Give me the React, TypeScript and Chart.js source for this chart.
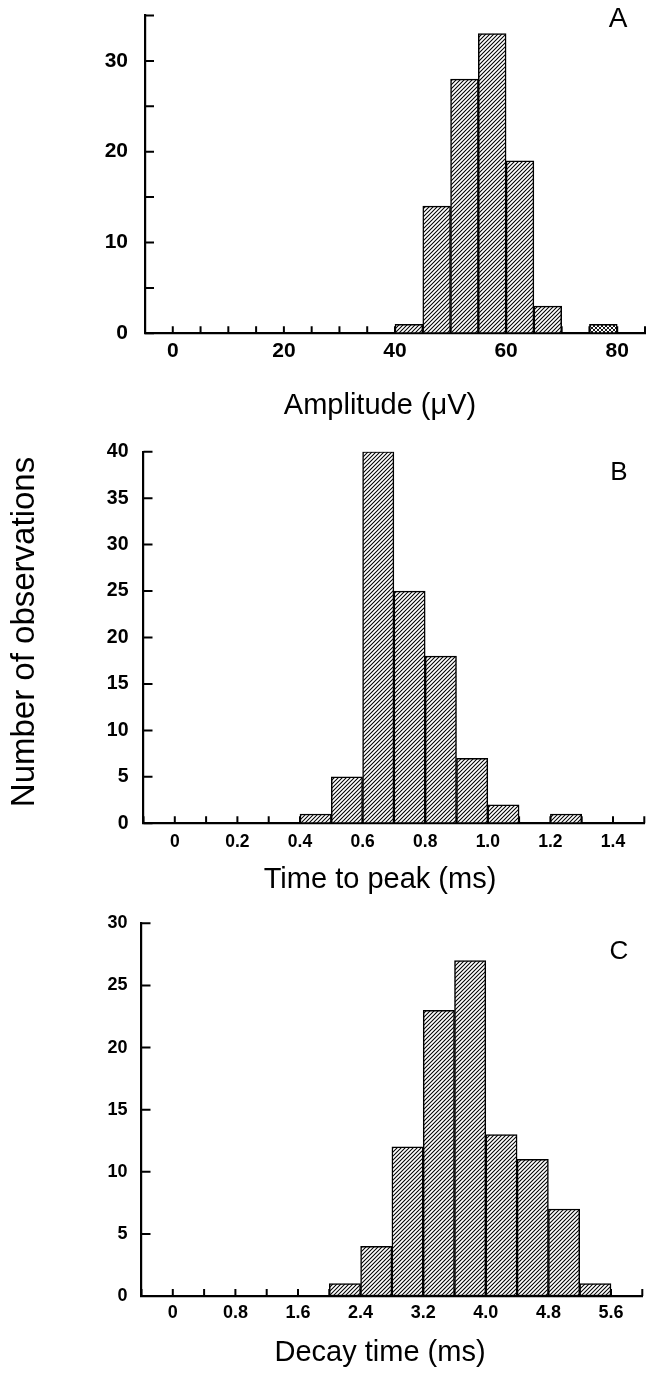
import React, { useEffect, useRef } from 'react';
import { Chart, registerables } from 'chart.js';

Chart.register(...registerables);

// ---------- DATA ----------
// Panel A: Amplitude (μV), bin width 5
const ampBinStart = [40, 45, 50, 55, 60, 65, 75];
const ampCounts = [1, 14, 28, 33, 19, 3, 1];
const ampBinWidth = 5;
const ampXLabels = ['0', '20', '40', '60', '80'];
const ampYLabels = ['0', '10', '20', '30'];

// Panel B: Time to peak (ms), bin width 0.1
const ttpBinStart = [0.4, 0.5, 0.6, 0.7, 0.8, 0.9, 1.0, 1.2];
const ttpCounts = [1, 5, 40, 25, 18, 7, 2, 1];
const ttpBinWidth = 0.1;
const ttpXLabels = ['0', '0.2', '0.4', '0.6', '0.8', '1.0', '1.2', '1.4'];
const ttpYLabels = ['0', '5', '10', '15', '20', '25', '30', '35', '40'];

// Panel C: Decay time (ms), bin width 0.4
const decayBinStart = [2.0, 2.4, 2.8, 3.2, 3.6, 4.0, 4.4, 4.8, 5.2];
const decayCounts = [1, 4, 12, 23, 27, 13, 11, 7, 1];
const decayBinWidth = 0.4;
const decayXLabels = ['0', '0.8', '1.6', '2.4', '3.2', '4.0', '4.8', '5.6'];
const decayYLabels = ['0', '5', '10', '15', '20', '25', '30'];

const yAxisTitle = 'Number of observations';

// ---------- STYLE / LAYOUT ----------
const FONT = '"Liberation Sans", Arial, Helvetica, sans-serif';
const W = 646;

type PanelCfg = {
  binStart: number[];
  counts: number[];
  binWidth: number;
  xLabels: string[];
  yLabels: string[];
  xMin: number;
  xMax: number;
  xStep: number;
  yMax: number;
  yStep: number;
  title: string;
  letter: string;
  top: number;
  height: number;
  plotTop: number;
  plotBottom: number;
  plotLeft: number;
  plotRight: number;
  xFont: number;
  yFont: number;
  xPad: number;
  yPad: number;
  titleX: number;
  titleY: number;
  letterX: number;
  letterY: number;
  letterSize: number;
  stippleBin?: number;
  sideTitle?: boolean;
};

const panels: PanelCfg[] = [
  {
    binStart: ampBinStart, counts: ampCounts, binWidth: ampBinWidth,
    xLabels: ampXLabels, yLabels: ampYLabels,
    xMin: -5, xMax: 85, xStep: 5, yMax: 35, yStep: 5,
    title: 'Amplitude (\u03bcV)', letter: 'A',
    top: 0, height: 440,
    plotTop: 15.5, plotBottom: 333.3, plotLeft: 145, plotRight: 645,
    xFont: 21, yFont: 21, xPad: 5, yPad: 17,
    titleX: 380, titleY: 406, letterX: 618, letterY: 19, letterSize: 28,
    stippleBin: 75,
  },
  {
    binStart: ttpBinStart, counts: ttpCounts, binWidth: ttpBinWidth,
    xLabels: ttpXLabels, yLabels: ttpYLabels,
    xMin: -0.1, xMax: 1.5, xStep: 0.1, yMax: 40, yStep: 5,
    title: 'Time to peak (ms)', letter: 'B',
    top: 440, height: 465,
    plotTop: 451.7, plotBottom: 823.3, plotLeft: 143.5, plotRight: 644.3,
    xFont: 17.5, yFont: 19.5, xPad: 8, yPad: 15,
    titleX: 380, titleY: 880, letterX: 619, letterY: 473, letterSize: 26,
    sideTitle: true,
  },
  {
    binStart: decayBinStart, counts: decayCounts, binWidth: decayBinWidth,
    xLabels: decayXLabels, yLabels: decayYLabels,
    xMin: -0.4, xMax: 6.0, xStep: 0.4, yMax: 30, yStep: 5,
    title: 'Decay time (ms)', letter: 'C',
    top: 905, height: 470,
    plotTop: 923.3, plotBottom: 1296, plotLeft: 141.5, plotRight: 642.3,
    xFont: 18, yFont: 18, xPad: 6.5, yPad: 14,
    titleX: 380, titleY: 1353, letterX: 619, letterY: 952, letterSize: 26,
  },
];

function makeHatch(): CanvasPattern | string {
  const n = 8;
  const c = document.createElement('canvas');
  c.width = n;
  c.height = n;
  const g = c.getContext('2d');
  if (!g) return '#888';
  g.fillStyle = '#fff';
  g.fillRect(0, 0, n, n);
  g.strokeStyle = '#000';
  g.lineWidth = 1.05;
  g.beginPath();
  for (let k = -n; k <= 2 * n; k += 4) {
    g.moveTo(k - 1, n + 1);
    g.lineTo(k + n + 1, -1);
  }
  g.stroke();
  return g.createPattern(c, 'repeat') || '#888';
}

function makeStipple(): CanvasPattern | string {
  const c = document.createElement('canvas');
  c.width = 4;
  c.height = 4;
  const g = c.getContext('2d');
  if (!g) return '#aaa';
  g.fillStyle = '#fff';
  g.fillRect(0, 0, 4, 4);
  g.strokeStyle = '#000';
  g.lineWidth = 0.9;
  g.beginPath();
  g.moveTo(0, 0);
  g.lineTo(4, 4);
  g.moveTo(4, 0);
  g.lineTo(0, 4);
  g.stroke();
  return g.createPattern(c, 'repeat') || '#aaa';
}

function labelFor(labels: string[], value: number, step: number): string {
  const hit = labels.find((l) => Math.abs(parseFloat(l) - value) < step * 1e-3);
  return hit === undefined ? '' : hit;
}

function Panel({ cfg }: { cfg: PanelCfg }) {
  const ref = useRef<HTMLCanvasElement | null>(null);

  useEffect(() => {
    const canvas = ref.current;
    if (!canvas) return;
    const hatch = makeHatch();
    const stipple = makeStipple();
    const data = cfg.binStart.map((s, i) => ({ x: s + cfg.binWidth / 2, y: cfg.counts[i] }));
    const fills = cfg.binStart.map((s) =>
      cfg.stippleBin !== undefined && Math.abs(s - cfg.stippleBin) < 1e-9 ? stipple : hatch
    );

    const ticksPlugin = {
      id: 'innerTicks',
      beforeDatasetsDraw(chart: any) {
        const { ctx, chartArea, scales } = chart;
        const xs = scales.x;
        const ys = scales.y;
        ctx.save();
        ctx.strokeStyle = '#000';
        ctx.lineWidth = 2;
        ctx.beginPath();
        xs.ticks.forEach((t: any) => {
          const px = xs.getPixelForValue(t.value);
          ctx.moveTo(px, chartArea.bottom);
          ctx.lineTo(px, chartArea.bottom - 7);
        });
        ys.ticks.forEach((t: any) => {
          const py = ys.getPixelForValue(t.value);
          ctx.moveTo(chartArea.left, py);
          ctx.lineTo(chartArea.left + 9, py);
        });
        ctx.stroke();
        ctx.restore();
      },
    };

    const textPlugin = {
      id: 'panelText',
      afterDraw(chart: any) {
        const ctx = chart.ctx;
        ctx.save();
        ctx.fillStyle = '#000';
        ctx.textAlign = 'center';
        ctx.textBaseline = 'middle';
        ctx.font = `29px ${FONT}`;
        ctx.fillText(cfg.title, cfg.titleX, cfg.titleY - cfg.top);
        ctx.font = `${cfg.letterSize}px ${FONT}`;
        ctx.fillText(cfg.letter, cfg.letterX, cfg.letterY - cfg.top);
        if (cfg.sideTitle) {
          ctx.translate(25, 632 - cfg.top);
          ctx.rotate(-Math.PI / 2);
          ctx.font = `33px ${FONT}`;
          ctx.fillText(yAxisTitle, 0, 0);
        }
        ctx.restore();
      },
    };

    const chart = new Chart(canvas, {
      type: 'bar',
      data: {
        datasets: [
          {
            data: data as any,
            backgroundColor: fills as any,
            borderColor: '#000',
            borderWidth: 1.5,
            borderSkipped: false,
            barPercentage: 1,
            categoryPercentage: 1,
          },
        ],
      },
      options: {
        animation: false,
        responsive: false,
        maintainAspectRatio: false,
        devicePixelRatio: 1,
        layout: {
          padding: { top: cfg.plotTop - cfg.top, right: W - cfg.plotRight, left: 0, bottom: 0 },
        },
        plugins: {
          legend: { display: false },
          tooltip: { enabled: false },
          title: { display: false },
        },
        scales: {
          x: {
            type: 'linear',
            offset: false,
            min: cfg.xMin,
            max: cfg.xMax,
            grid: { display: false, drawTicks: false, offset: false },
            border: { display: true, color: '#000', width: 2.2 },
            ticks: {
              stepSize: cfg.xStep,
              autoSkip: false,
              maxRotation: 0,
              minRotation: 0,
              padding: cfg.xPad,
              color: '#000',
              font: { family: FONT, size: cfg.xFont, weight: 'bold' },
              callback: (v: any) => labelFor(cfg.xLabels, Number(v), cfg.xStep),
            },
            afterFit: (s: any) => {
              s.height = cfg.top + cfg.height - cfg.plotBottom;
              s.paddingLeft = 0;
              s.paddingRight = 0;
            },
          },
          y: {
            type: 'linear',
            min: 0,
            max: cfg.yMax,
            grid: { display: false, drawTicks: false },
            border: { display: true, color: '#000', width: 2.2 },
            ticks: {
              stepSize: cfg.yStep,
              autoSkip: false,
              padding: cfg.yPad,
              color: '#000',
              font: { family: FONT, size: cfg.yFont, weight: 'bold' },
              callback: (v: any) => labelFor(cfg.yLabels, Number(v), cfg.yStep),
            },
            afterFit: (s: any) => {
              s.width = cfg.plotLeft;
              s.paddingTop = 0;
              s.paddingBottom = 0;
            },
          },
        },
      } as any,
      plugins: [ticksPlugin, textPlugin],
    });

    return () => chart.destroy();
  }, [cfg]);

  return (
    <canvas
      ref={ref}
      width={W}
      height={cfg.height}
      style={{ position: 'absolute', left: 0, top: cfg.top, width: W, height: cfg.height, display: 'block' }}
    />
  );
}

export default function App() {
  return (
    <div
      style={{
        position: 'absolute',
        left: 0,
        top: 0,
        width: W,
        height: 1375,
        background: '#fff',
        overflow: 'hidden',
      }}
    >
      {panels.map((p) => (
        <Panel key={p.letter} cfg={p} />
      ))}
    </div>
  );
}
